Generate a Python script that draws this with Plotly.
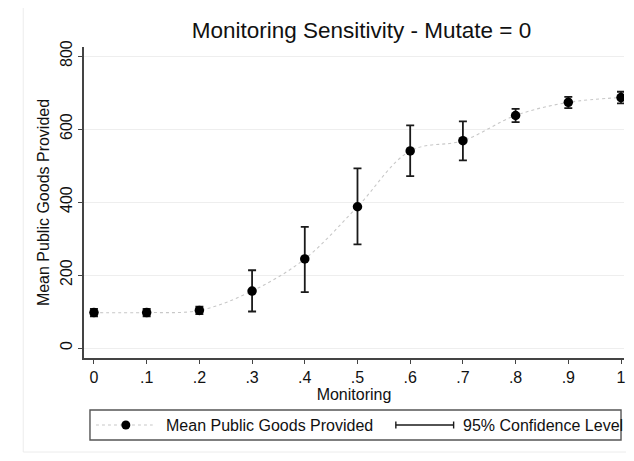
import plotly.graph_objects as go

# ---- data ----
monitoring = [0, 0.1, 0.2, 0.3, 0.4, 0.5, 0.6, 0.7, 0.8, 0.9, 1.0]
mean_pg    = [97, 97, 103, 156, 244, 387, 540, 568, 637, 673, 686]
ci_upper   = [107, 107, 113, 213, 332, 492, 610, 621, 655, 688, 702]
ci_lower   = [87, 87, 93, 100, 153, 284, 471, 514, 619, 657, 670]
x_tickvals = [0, 0.1, 0.2, 0.3, 0.4, 0.5, 0.6, 0.7, 0.8, 0.9, 1.0]
x_ticktext = ["0", ".1", ".2", ".3", ".4", ".5", ".6", ".7", ".8", ".9", "1"]
y_tickvals = [0, 200, 400, 600, 800]

err_plus = [u - m for u, m in zip(ci_upper, mean_pg)]
err_minus = [m - l for m, l in zip(mean_pg, ci_lower)]

FONT = "Liberation Sans, Arial, Helvetica, sans-serif"

# The page body has an 8px margin (window pixels below are page positions).
OFF = 8
VIS_R = 626                       # right-most visible page pixel
FW, FH = VIS_R - OFF, 461 - 2 * OFF
# plot-area in page pixels
L, R, T, B = 84, VIS_R, 47, 358
W, H = R - L, B - T
X0_PX, X1_PX = 94, 623            # page pixel of x=0 and x=1
def px(x):
    return (x - L) / W
def py(y):
    return (B - y) / H

fig = go.Figure()

# dotted connecting curve
fig.add_trace(go.Scatter(
    x=monitoring, y=mean_pg, mode="lines",
    line=dict(color="#c8c8c8", width=1.1, dash="dot", shape="spline"),
    hoverinfo="skip", showlegend=False,
))
# means with 95% CI
fig.add_trace(go.Scatter(
    x=monitoring, y=mean_pg, mode="markers",
    marker=dict(color="black", size=9.5),
    error_y=dict(type="data", symmetric=False, array=err_plus, arrayminus=err_minus,
                 color="#1a1a1a", thickness=1.8, width=4),
    name="Mean Public Goods Provided", showlegend=False,
))

shapes = []
# outer (graph region) frame
shapes.append(dict(type="rect", xref="paper", yref="paper",
                   x0=px(23), x1=px(700), y0=py(452), y1=py(3),
                   line=dict(color="#ececec", width=1), layer="below"))
# legend box
shapes.append(dict(type="rect", xref="paper", yref="paper",
                   x0=px(90), x1=px(623), y0=py(440), y1=py(410),
                   line=dict(color="#555555", width=1.4), fillcolor="white"))
# legend item 1: dotted line + marker
ly = 425
shapes.append(dict(type="line", xref="paper", yref="paper",
                   x0=px(96), x1=px(153), y0=py(ly), y1=py(ly),
                   line=dict(color="#c8c8c8", width=1.1, dash="dot")))
shapes.append(dict(type="circle", xref="paper", yref="paper",
                   xsizemode="pixel", ysizemode="pixel",
                   xanchor=px(126), yanchor=py(ly),
                   x0=-4.5, x1=4.5, y0=-4.5, y1=4.5,
                   fillcolor="black", line=dict(color="black", width=0)))
# legend item 2: CI bar
shapes.append(dict(type="line", xref="paper", yref="paper",
                   x0=px(397), x1=px(455), y0=py(ly), y1=py(ly),
                   line=dict(color="#1a1a1a", width=1.4)))
for cx in (397, 455):
    shapes.append(dict(type="line", xref="paper", yref="paper",
                       x0=px(cx), x1=px(cx), y0=py(ly - 3.5), y1=py(ly + 3.5),
                       line=dict(color="#1a1a1a", width=1.4)))

annotations = [
    dict(text="Mean Public Goods Provided", xref="paper", yref="paper",
         x=px(164), y=py(ly), xanchor="left", yanchor="middle", showarrow=False,
         font=dict(family=FONT, size=16, color="#111")),
    dict(text="95% Confidence Level", xref="paper", yref="paper",
         x=px(462), y=py(ly), xanchor="left", yanchor="middle", showarrow=False,
         font=dict(family=FONT, size=16, color="#111")),
]

span = X1_PX - X0_PX
fig.update_layout(
    width=FW, height=FH,
    margin=dict(l=L - OFF, r=0, t=T - OFF, b=FH - (B - OFF), pad=0),
    paper_bgcolor="white", plot_bgcolor="white",
    font=dict(family=FONT, size=16, color="#111"),
    title=dict(text="Monitoring Sensitivity - Mutate = 0",
               x=px(362.5), xref="paper", xanchor="center",
               y=1 - (30 - OFF) / FH, yref="container", yanchor="middle",
               font=dict(family=FONT, size=22.5, color="#111")),
    shapes=shapes, annotations=annotations, showlegend=False,
    xaxis=dict(range=[(L - X0_PX) / span, (R - X0_PX) / span],
               tickvals=x_tickvals, ticktext=x_ticktext,
               ticks="outside", ticklen=4, tickwidth=1.3, tickcolor="#444",
               showline=True, linecolor="#444", linewidth=1.6,
               showgrid=False, zeroline=False,
               tickfont=dict(size=16), ticklabeloverflow="allow",
               title=dict(text="Monitoring", standoff=3, font=dict(size=16))),
    yaxis=dict(range=[(348 - B) / 0.365, (348 - T) / 0.365],
               tickvals=y_tickvals, tickangle=-90,
               ticks="outside", ticklen=4, tickwidth=1.3, tickcolor="#444",
               showline=True, linecolor="#444", linewidth=1.6,
               showgrid=True, gridcolor="#eeeeee", gridwidth=1, zeroline=False,
               tickfont=dict(size=16),
               title=dict(text="Mean Public Goods Provided", standoff=4,
                          font=dict(size=16))),
)

fig.write_html("out.html")
